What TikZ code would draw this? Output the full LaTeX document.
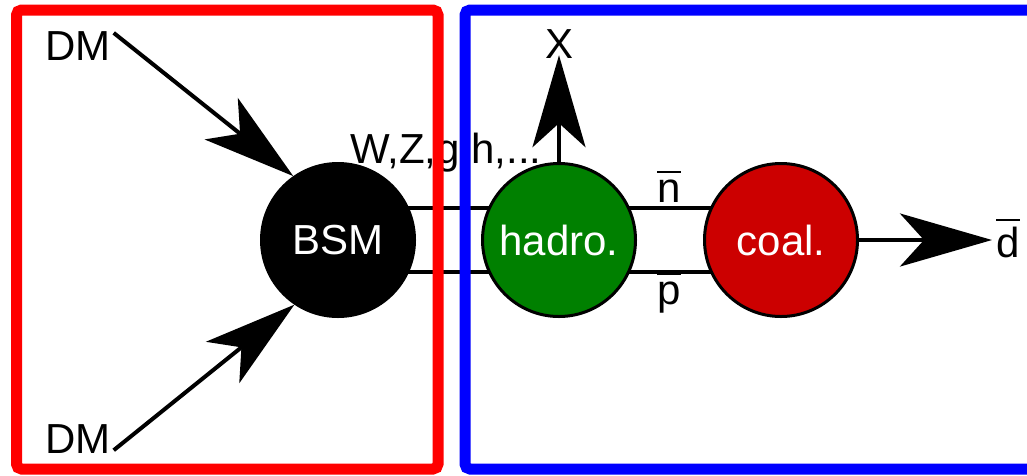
\documentclass[tikz,border=0pt]{standalone}
\usepackage{fontspec}
\setmainfont{Liberation Sans}
\usetikzlibrary{arrows.meta,backgrounds}
\definecolor{hgreen}{RGB}{0,128,0}
\definecolor{cred}{RGB}{204,0,0}
\newcommand\ovl[1]{\leavevmode\vbox{\hrule height 2pt\kern 6pt\hbox{#1}}}
\begin{document}
\begin{tikzpicture}[x=1pt,y=-1pt,
  font=\fontsize{42pt}{50pt}\selectfont,
  lbl/.style={inner sep=0pt},
  ball/.style={circle, draw=black, line width=3pt, minimum size=153pt, inner sep=0pt, text=white},
  conn/.style={line width=4pt},
  arr/.style={line width=4pt, -{Stealth[length=92pt,width=53pt,inset=24pt]}},
  frame/.style={line width=11pt, rounded corners=5pt}]
\useasboundingbox (0,0) rectangle (1027,475);
% balls
\node[ball, fill=black] (bsm) at (338,240) {BSM};
\node[ball, fill=hgreen] (had) at (559,240) {hadro.};
\node[ball, fill=cred] (coal) at (781,240) {coal.};
% labels
\node[lbl, anchor=base west] (dm1) at (45,60) {DM};
\node[lbl, anchor=base west] (dm2) at (45,453) {DM};
\node[lbl, anchor=base] (xl) at (559,58) {X};
\node[lbl, anchor=base west] (wz) at (350,163) {W,Z,g,h,...};
\node[lbl, anchor=base] (nb) at (669,202) {\ovl{n}};
\node[lbl, anchor=base] (pb) at (669,304) {\ovl{p}};
\node[lbl, anchor=base west] (db) at (996,257) {\ovl{d}};
% connectors between balls
\begin{scope}[on background layer]
\draw[conn] ([yshift=32pt]bsm.center) -- ([yshift=32pt]had.center);
\draw[conn] ([yshift=-32pt]bsm.center) -- ([yshift=-32pt]had.center);
\draw[conn] ([yshift=32pt]had.center) -- ([yshift=32pt]coal.center);
\draw[conn] ([yshift=-32pt]had.center) -- ([yshift=-32pt]coal.center);
\end{scope}
% arrows
\draw[arr] (dm1.north east) ++(3,2) -- (bsm.125);
\draw[arr] (dm2.south east) ++(3,-3) -- (bsm.236);
\draw[arr] (had.north) -- ([yshift=3pt]had.north |- xl.south);
\draw[arr, shorten >=4pt] (coal.east) -- (coal.east -| db.west);
% frames
\draw[frame, red] (16.5,10) rectangle (438,469);
\begin{scope}
\clip (0,0) rectangle (1027,475);
\draw[frame, blue] (465,10) rectangle (1045,469);
\end{scope}
\end{tikzpicture}
\end{document}
